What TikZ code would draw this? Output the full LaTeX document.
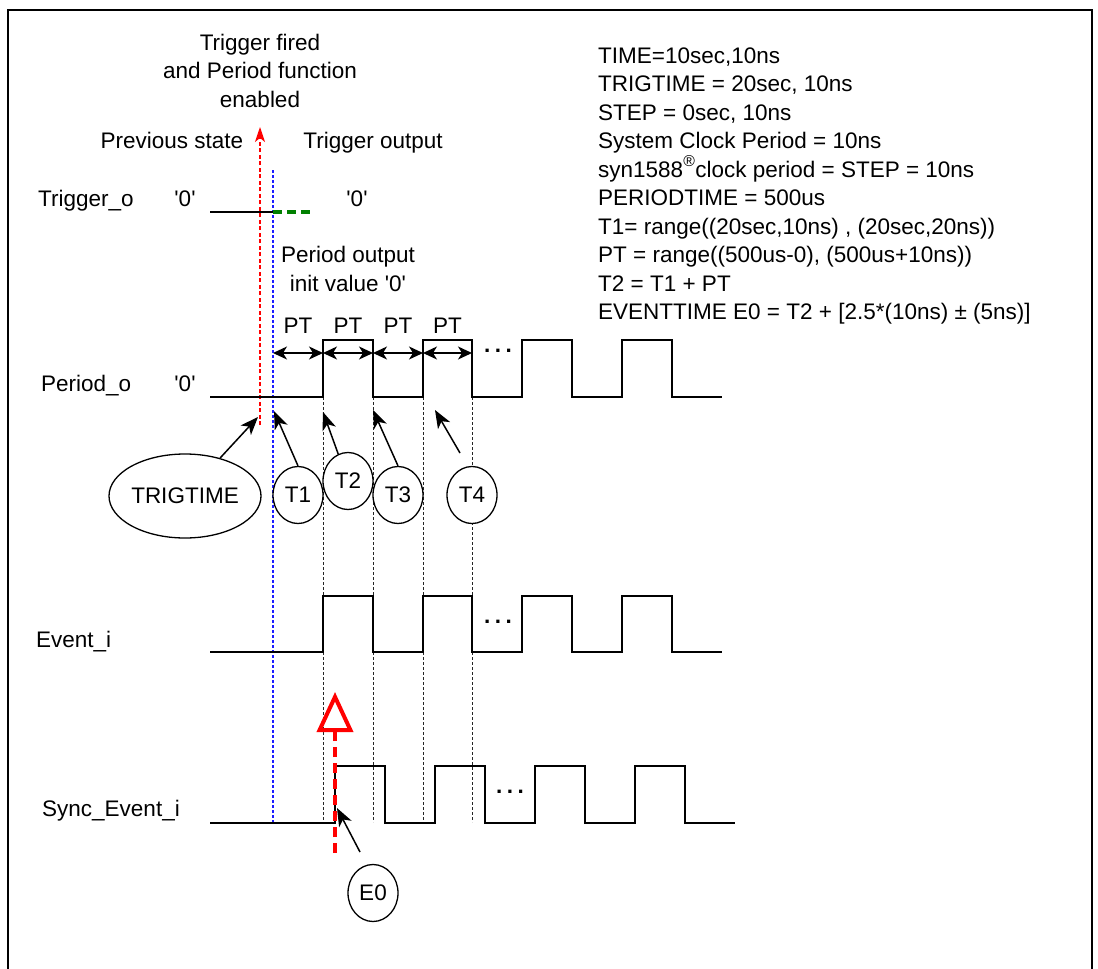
\documentclass[tikz,border=0pt]{standalone}
\usepackage{fontspec}
\setmainfont{Liberation Sans}
\usetikzlibrary{arrows.meta, shapes.geometric}
\definecolor{markblue}{RGB}{30,30,255}
\newcommand{\zq}{\textquotesingle0\textquotesingle}

\begin{document}
\begin{tikzpicture}[x=1pt, y=-1pt,
  lbl/.style={font=\fontsize{22.5}{28.5}\selectfont, inner sep=0pt},
  sig/.style={line width=1.5pt},
  guide/.style={dash pattern=on 3pt off 2pt, line width=1pt, black!85},
  tnode/.style={lbl, draw, ellipse, fill=white, line width=1.3pt, minimum width=50pt, minimum height=57pt},
  ptr/.style={-{Stealth[length=18pt, width=14pt, inset=5pt]}, line width=1.5pt},
  span/.style={{Stealth[length=14pt, width=13pt, inset=4pt]}-{Stealth[length=14pt, width=13pt, inset=4pt]}, line width=1.4pt}]
\useasboundingbox (0,0) rectangle (1098,969);
\draw[line width=1.8pt] (8,969) -- (8,10) -- (1092,10) -- (1092,969);

% signal names
\node[lbl, anchor=base west] (trigo) at (38,206) {Trigger\_o};
\node[lbl, anchor=base west] (perio) at (41,391) {Period\_o};
\node[lbl, anchor=base west] (evti) at (36,647) {Event\_i};
\node[lbl, anchor=base west] (syncevti) at (42,816) {Sync\_Event\_i};
\node[lbl, anchor=base] (trigz) at (185,206) {\zq};
\node[lbl, anchor=base] (periz) at (185,391) {\zq};
\node[lbl, anchor=base] (trigoutz) at (357,206) {\zq};

\node[lbl, align=center, anchor=base] (fired) at (260,107) {Trigger fired\\and Period function\\enabled};
\node[lbl, anchor=base] (prev) at (172,148) {Previous state};
\node[lbl, anchor=base] (trigout) at (373,148) {Trigger output};
\node[lbl, align=center, anchor=base] (init) at (348,291) {Period output\\init value \zq};

% parameters
\foreach \txt [count=\i from 0] in {{TIME=10sec,10ns}, {TRIGTIME = 20sec, 10ns}, {STEP = 0sec, 10ns},
  {System Clock Period = 10ns}, {syn1588\raisebox{3pt}{\textsuperscript{\textregistered}}clock period = STEP = 10ns},
  {PERIODTIME = 500us}, {T1= range((20sec,10ns) , (20sec,20ns))}, {PT = range((500us-0), (500us+10ns))},
  {T2 = T1 + PT}, {EVENTTIME E0 = T2 + [2.5*(10ns) ± (5ns)]}}
  \node[lbl, anchor=base west] (par\i) at (598,{63+28.5*\i}) {\txt};

% time markers
\foreach \x in {323,373,423,472}
  \draw[guide] (\x,397) -- (\x,822);
\draw[markblue, dash pattern=on 3pt off 2pt, line width=1.3pt] (273,170) -- (273,822);
\draw[red, dash pattern=on 4pt off 2.5pt, line width=1.3pt, -{Stealth[length=15pt, width=10pt, inset=4pt]}] (260,425) -- (260,127);

% waveforms
\draw[sig] (210,212) -- (273,212);
\draw[green!50!black, line width=3.8pt, dash pattern=on 9pt off 5pt] (273,212) -- (312,212);
\draw[sig] (210,397) -| (323,340) -| (373,397) -| (423,340) -| (472,397) -| (522,340) -| (572,397) -| (622,340) -| (672,397) -- (722,397);
\draw[sig] (210,652) -| (323,596) -| (373,652) -| (423,596) -| (472,652) -| (522,596) -| (572,652) -| (622,596) -| (672,652) -- (722,652);
\draw[sig] (210,823) -| (335,766) -| (385,823) -| (435,766) -| (485,823) -| (535,766) -| (585,823) -| (635,766) -| (685,823) -- (735,823);
\node[lbl, anchor=base] (dots1) at (498,352) {\textbf{.\kern4.5pt.\kern4.5pt.}};
\node[lbl, anchor=base] (dots2) at (498,623) {\textbf{.\kern4.5pt.\kern4.5pt.}};
\node[lbl, anchor=base] (dots3) at (510,793) {\textbf{.\kern4.5pt.\kern4.5pt.}};

% periods
\foreach \a/\b in {273/323, 323/373, 373/423, 423/472} {
  \coordinate (pa\a) at (\a,353);
  \coordinate (pb\a) at (\b,353);
  \draw[span] (pa\a) -- (pb\a);
  \node[lbl, anchor=base] (pt\a) at ({(\a+\b)/2},333) {PT};
}

% markers
\node[tnode, minimum width=124pt, minimum height=84pt] (trig) at (185,496) {TRIGTIME};
\node[tnode] (t1) at (298,495) {T1};
\node[tnode] (t2) at (348,481) {T2};
\node[tnode] (t3) at (398,495) {T3};
\node[tnode] (t4) at (472,495) {T4};
\node[tnode] (e0) at (373,893) {E0};
\coordinate (trigtip) at (258,417);
\coordinate (t1tip) at (274,411);
\coordinate (t2tip) at (323,412);
\coordinate (t3tip) at (373,410);
\coordinate (t4tip) at (435,410);
\coordinate (t4tail) at (460,453);
\coordinate (e0tip) at (337,808);
\coordinate (e0tail) at (360,852);
\draw[ptr] (trig) -- (trigtip);
\draw[ptr] (t1.north) -- (t1tip);
\draw[ptr] (t2) -- (t2tip);
\draw[ptr] (t3.north) -- (t3tip);
\draw[ptr] (t4tail) -- (t4tip);
\draw[ptr] (e0tail) -- (e0tip);

% event edge
\coordinate (evbot) at (335,853);
\coordinate (evtop) at (335,692);
\draw[red, line width=4pt, dash pattern=on 10pt off 6pt, -{Triangle[open, length=40pt, width=36pt]}] (evbot) -- (evtop);
\end{tikzpicture}
\end{document}
